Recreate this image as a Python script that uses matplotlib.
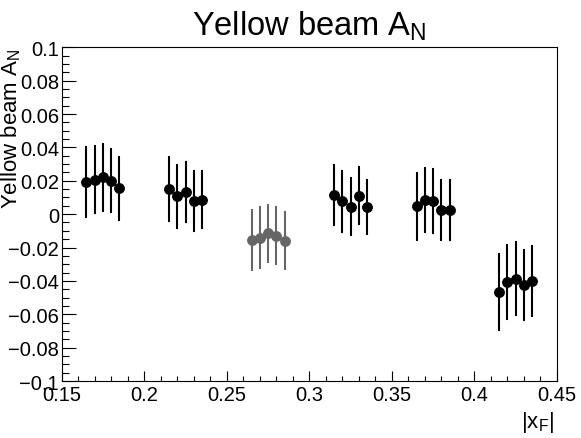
import numpy as np
import matplotlib
matplotlib.use("Agg")
import matplotlib.pyplot as plt
from matplotlib.ticker import MultipleLocator, FuncFormatter

plt.rcParams['font.family'] = ['Liberation Sans', 'DejaVu Sans']
plt.rcParams['mathtext.fontset'] = 'custom'
plt.rcParams['mathtext.rm'] = 'Liberation Sans'
plt.rcParams['mathtext.default'] = 'regular'

# |x_F| bins, five points per group
xf = [0.165, 0.170, 0.175, 0.180, 0.185,
      0.215, 0.220, 0.225, 0.230, 0.235,
      0.265, 0.270, 0.275, 0.280, 0.285,
      0.315, 0.320, 0.325, 0.330, 0.335,
      0.365, 0.370, 0.375, 0.380, 0.385,
      0.415, 0.420, 0.425, 0.430, 0.435]
an = [0.0194, 0.0206, 0.0220, 0.0200, 0.0154,
      0.0150, 0.0106, 0.0130, 0.0080, 0.0086,
      -0.0154, -0.0140, -0.0114, -0.0130, -0.0160,
      0.0116, 0.0076, 0.0044, 0.0110, 0.0044,
      0.0046, 0.0086, 0.0080, 0.0026, 0.0026,
      -0.0466, -0.0406, -0.0386, -0.0424, -0.0400]
an_err = [0.021, 0.020, 0.020, 0.019, 0.019,
          0.019, 0.019, 0.018, 0.018, 0.017,
          0.018, 0.018, 0.017, 0.017, 0.017,
          0.018, 0.018, 0.017, 0.017, 0.016,
          0.020, 0.019, 0.019, 0.018, 0.018,
          0.023, 0.022, 0.022, 0.021, 0.021]
# third group is drawn in grey
group_color = ['black', 'black', '#666666', 'black', 'black', 'black']

fig = plt.figure(figsize=(5.81, 4.39), dpi=100)
ax = fig.add_axes([0.1062, 0.1298, 0.8525, 0.7602])

for g in range(6):
    s = slice(5 * g, 5 * g + 5)
    ax.errorbar(xf[s], an[s], yerr=an_err[s], fmt='o', color=group_color[g],
                ms=6.8, elinewidth=1.5, capsize=1, capthick=1.5)

ax.set_xlim(0.15, 0.45)
ax.set_ylim(-0.1, 0.1)

ax.xaxis.set_major_locator(MultipleLocator(0.05))
ax.xaxis.set_minor_locator(MultipleLocator(0.01))
ax.yaxis.set_major_locator(MultipleLocator(0.02))
ax.yaxis.set_minor_locator(MultipleLocator(0.005))


def fmt(v, pos):
    if abs(v) < 1e-9:
        return '0'
    return f"{v:g}".replace('-', '\u2212')


ax.xaxis.set_major_formatter(FuncFormatter(fmt))
ax.yaxis.set_major_formatter(FuncFormatter(fmt))

ax.tick_params(axis='both', which='both', direction='in', top=False, right=False,
               labelsize=14.5, width=0.8)
ax.tick_params(axis='x', which='major', length=7, pad=3)
ax.tick_params(axis='x', which='minor', length=3.6)
ax.tick_params(axis='y', which='major', length=10, pad=2)
ax.tick_params(axis='y', which='minor', length=5)
for sp in ax.spines.values():
    sp.set_linewidth(0.8)

ax.set_title('Yellow beam A$_{N}$', fontsize=23.5, pad=9)
ax.set_ylabel('Yellow beam A$_{N}$', fontsize=16, loc='top')
ax.yaxis.set_label_coords(-0.078, 1.0)
ax.set_xlabel('|x$_{F}$|', fontsize=16, loc='right')
ax.xaxis.set_label_coords(0.993, -0.085)

fig.savefig('out.png', dpi=100)
